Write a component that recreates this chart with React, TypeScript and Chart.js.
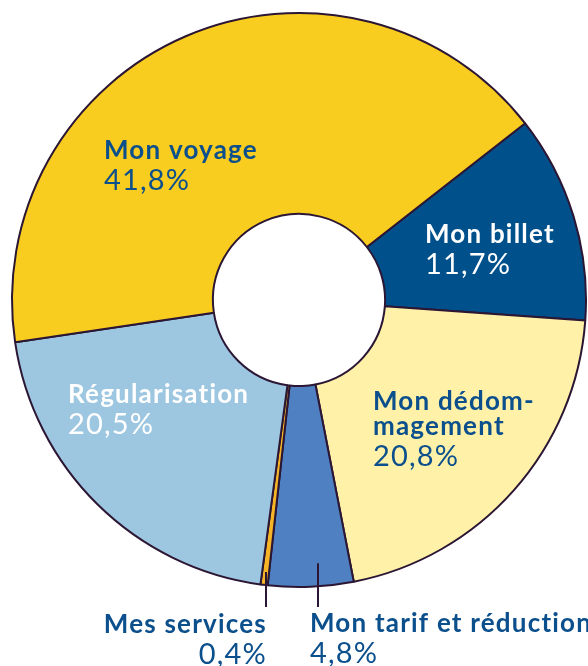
import React, { useEffect, useRef } from "react";
import { Chart, registerables } from "chart.js";

Chart.register(...registerables);

// ---- data ----
const CATEGORIES = [
  "Mon billet",
  "Mon dédommagement",
  "Mon tarif et réduction",
  "Mes services",
  "Régularisation",
  "Mon voyage",
];
const VALUES = [11.7, 20.8, 4.8, 0.4, 20.5, 41.8];
const LABEL_LINES = [
  ["Mon billet"],
  ["Mon dédom-", "magement"],
  ["Mon tarif et réduction"],
  ["Mes services"],
  ["Régularisation"],
  ["Mon voyage"],
];

// ---- styles ----
const COLORS = ["#00508C", "#FFF2A8", "#4F80C2", "#F6B526", "#9DC6E1", "#F9CD1F"];
const TEXT_COLORS = ["#FFFFFF", "#0B4F8C", "#0B4F8C", "#0B4F8C", "#FFFFFF", "#0B4F8C"];
const BORDER = "#2B1634";
// label anchor offsets from chart centre (px), alignment
const LABEL_LAYOUT = [
  { dx: 126, dy: -57, align: "left" },
  { dx: 74, dy: 110, align: "left" },
  { dx: 11, dy: 332, align: "left", leader: { f: 0.4, r: 0.92 } },
  { dx: -32, dy: 333, align: "right", leader: { f: 0.5, r: 0.955 } },
  { dx: -231, dy: 103, align: "left" },
  { dx: -195, dy: -141, align: "left" },
];
const BOLD_FONT = "bold 26px Lato, 'Noto Sans', sans-serif";
const PCT_FONT = "400 29px Lato, 'Noto Sans', sans-serif";
const BOLD_SPACING = "1.2px";
const PCT_SPACING = "1.2px";

const labelPlugin = {
  id: "sliceLabels",
  afterDraw(chart: any) {
    const ctx = chart.ctx;
    const meta = chart.getDatasetMeta(0);
    meta.data.forEach((arc: any, i: number) => {
      const { x: cx, y: cy, startAngle, endAngle, outerRadius } = arc.getProps(
        ["x", "y", "startAngle", "endAngle", "outerRadius"],
        true
      );
      const lay = LABEL_LAYOUT[i];
      ctx.save();
      if (lay.leader) {
        const a = startAngle + lay.leader.f * (endAngle - startAngle);
        const lx = cx + Math.cos(a) * outerRadius * lay.leader.r;
        const ly = cy + Math.sin(a) * outerRadius * lay.leader.r;
        ctx.strokeStyle = BORDER;
        ctx.lineWidth = 2;
        ctx.beginPath();
        ctx.moveTo(Math.round(lx), ly);
        ctx.lineTo(Math.round(lx), cy + outerRadius + 20);
        ctx.stroke();
      }
      ctx.fillStyle = TEXT_COLORS[i];
      ctx.textAlign = lay.align;
      ctx.textBaseline = "alphabetic";
      const x = cx + lay.dx;
      let y = cy + lay.dy;
      ctx.font = BOLD_FONT;
      (ctx as any).letterSpacing = BOLD_SPACING;
      LABEL_LINES[i].forEach((line, k) => {
        if (k > 0) y += 25;
        ctx.fillText(line, x, y);
      });
      y += 31;
      ctx.font = PCT_FONT;
      (ctx as any).letterSpacing = PCT_SPACING;
      ctx.fillText(VALUES[i].toFixed(1).replace(".", ",") + "%", x, y);
      ctx.restore();
    });
  },
};

export default function App() {
  const ref = useRef<HTMLCanvasElement>(null);
  useEffect(() => {
    if (!ref.current) return;
    const chart = new Chart(ref.current, {
      type: "doughnut",
      data: {
        labels: CATEGORIES,
        datasets: [
          {
            data: VALUES,
            backgroundColor: COLORS,
            borderColor: BORDER,
            borderWidth: 2,
            hoverOffset: 0,
          },
        ],
      },
      options: {
        responsive: false,
        animation: false,
        devicePixelRatio: 1,
        rotation: 52,
        cutout: "30%",
        layout: { padding: { left: 11, right: 1, top: 12, bottom: 78 } },
        plugins: {
          legend: { display: false },
          tooltip: { enabled: false },
        },
      },
      plugins: [labelPlugin],
    });
    return () => chart.destroy();
  }, []);
  return (
    <div style={{ position: "fixed", left: 0, top: 0, width: 588, height: 666, background: "#fff" }}>
      <canvas ref={ref} width={588} height={666} style={{ display: "block" }} />
    </div>
  );
}
